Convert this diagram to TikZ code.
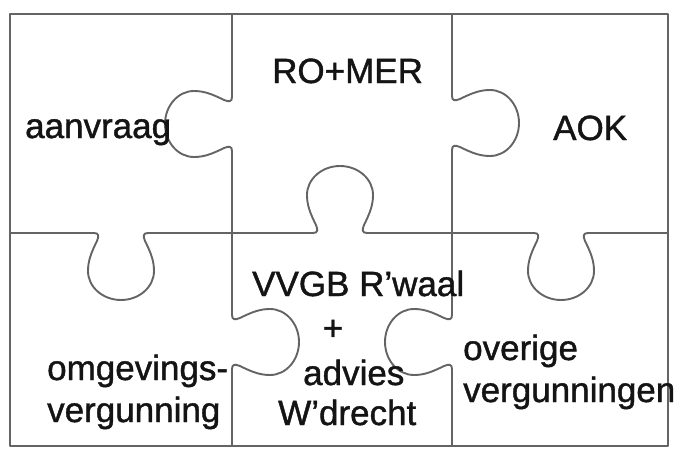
\documentclass[tikz,border=0pt]{standalone}
\usepackage{fontspec}
\setmainfont{Liberation Sans}
\newfontfamily\pzfont[FakeBold=1.2]{Liberation Sans}
\tikzset{
  pzline/.style={draw={rgb,255:red,100;green,100;blue,100}, line width=1.9pt, line cap=round, line join=round},
  lbl/.style={inner sep=0pt, font=\pzfont\fontsize{35}{40}\selectfont, text={rgb,255:red,20;green,20;blue,20}},
}
% puzzle knob: centre on the cut line at (#1,#2), rotation #3 (0 = down, 90 = right, 180 = up, -90 = left)
\newcommand\pzknob[3]{%
  \draw[pzline, shift={(#1,#2)}, rotate=#3]
    (-27,0) .. controls (-22,0) and (-22,3) .. (-24,8)
    .. controls (-30,20) and (-33,28) .. (-33,38)
    .. controls (-33,54) and (-18.2,67) .. (0,67)
    .. controls (18.2,67) and (33,54) .. (33,38)
    .. controls (33,28) and (30,20) .. (24,8)
    .. controls (22,3) and (22,0) .. (27,0);}
\begin{document}
\begin{tikzpicture}[x=1pt, y=-1pt]
\useasboundingbox (0,0) rectangle (685,450);
% frame
\draw[pzline] (10,14) rectangle (668,446);
% vertical cut x = 232
\draw[pzline] (232,14) -- (232,97);
\draw[pzline] (232,151) -- (232,315);
\draw[pzline] (232,369) -- (232,446);
% vertical cut x = 452
\draw[pzline] (452,14) -- (452,96);
\draw[pzline] (452,150) -- (452,315);
\draw[pzline] (452,369) -- (452,446);
% horizontal cut y = 233
\draw[pzline] (10,233) -- (94,233);
\draw[pzline] (148,233) -- (313,233);
\draw[pzline] (367,233) -- (534,233);
\draw[pzline] (588,233) -- (668,233);
% knobs
\pzknob{232}{124}{-90}
\pzknob{452}{123}{90}
\pzknob{340}{233}{180}
\pzknob{121}{233}{0}
\pzknob{561}{233}{0}
\pzknob{232}{342}{90}
\pzknob{452}{342}{-90}
% labels
\node[lbl, anchor=base west] (romer) at (272,83) {RO+MER};
\node[lbl, anchor=base west] (aanvraag) at (25,138) {aanvraag};
\node[lbl, anchor=base west] (aok) at (553,140) {AOK};
\node[lbl, anchor=base west] (vvgb) at (252,296) {VVGB R’waal};
\node[lbl, anchor=base] (plus) at (333,340) {+};
\node[lbl, anchor=base west] (advies) at (303,385) {advies};
\node[lbl, anchor=base west] (wdrecht) at (278,425) {W’drecht};
\node[lbl, anchor=base west] (omgev) at (47,380) {omgevings-};
\node[lbl, anchor=base west] (verg) at (47,422) {vergunning};
\node[lbl, anchor=base west] (overige) at (463,360) {overige};
\node[lbl, anchor=base west] (oververg) at (463,402) {vergunningen};
\end{tikzpicture}
\end{document}
